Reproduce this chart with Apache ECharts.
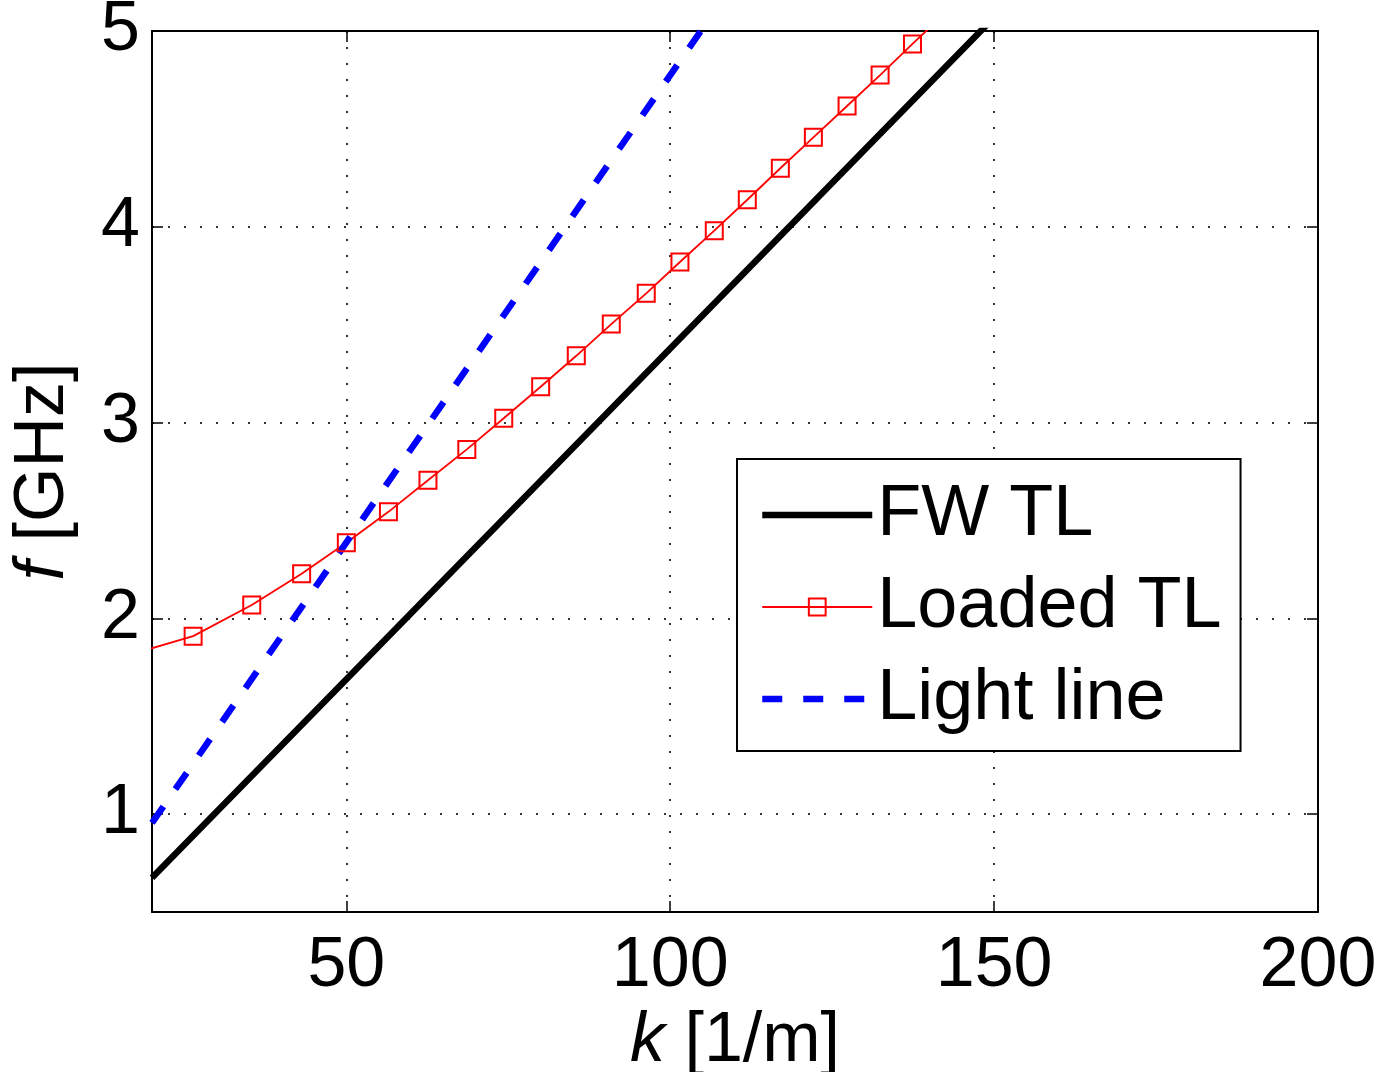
<!DOCTYPE html>
<html>
<head>
<meta charset="utf-8">
<script src="https://cdn.jsdelivr.net/npm/echarts@6/dist/echarts.min.js"></script>
<style>
html,body{margin:0;padding:0;background:#fff;}
#chart{width:1384px;height:1072px;}
</style>
</head>
<body>
<div id="chart"></div>
<script>
// ---- data ----
const xTicks = [50, 100, 150, 200];
const yTicks = [1, 2, 3, 4, 5];

const kFW = [20, 90, 150];
const fFW = [0.675, 3.04, 5.07];

const kLoaded = [10, 26.35, 35.4, 43.1, 50.0, 56.5, 62.6, 68.6, 74.3, 80.0, 85.5, 90.9, 96.3, 101.5, 106.8, 111.9, 117.0, 122.1, 127.3, 132.4, 137.4, 142.5];
const fLoaded = [1.75, 1.909, 2.068, 2.228, 2.386, 2.544, 2.705, 2.863, 3.022, 3.183, 3.341, 3.503, 3.660, 3.820, 3.980, 4.138, 4.299, 4.457, 4.617, 4.775, 4.934, 5.093];

const kLight = [20, 60, 110];
const fLight = [0.955, 2.865, 5.252];

const seriesNames = ['FW TL', 'Loaded TL', 'Light line'];

function pairs(xs, ys) { return xs.map((x, i) => [x, ys[i]]); }

const FONT = '"Liberation Sans", Arial, Helvetica, sans-serif';
const chart = echarts.init(document.getElementById('chart'), null, {renderer: 'canvas'});

const gridLine = {show: true, lineStyle: {color: '#333', width: 2, type: [2, 14]}};
const fwStyle = {color: '#000', width: 6.5, cap: 'butt'};
const loadedStyle = {color: '#ff0000', width: 1.8};
const lightStyle = {color: '#0000ff', width: 6.5, type: [20, 21], cap: 'butt'};

chart.setOption({
  animation: false,
  backgroundColor: '#fff',
  grid: {left: 152, top: 31, width: 1166, height: 881, containLabel: false, outerBoundsMode: 'none'},
  legend: {
    orient: 'vertical',
    left: 737, top: 459,
    data: [
      {name: seriesNames[0], lineStyle: fwStyle, itemStyle: {opacity: 0}},
      {name: seriesNames[1], lineStyle: loadedStyle},
      {name: seriesNames[2], lineStyle: lightStyle, itemStyle: {opacity: 0}}
    ],
    selectedMode: false,
    backgroundColor: '#fff',
    borderColor: '#000',
    borderWidth: 2,
    borderRadius: 0,
    padding: [20, 19, 16, 22],
    itemGap: 20,
    itemWidth: 110,
    itemHeight: 21,
    textStyle: {fontFamily: FONT, fontSize: 72, color: '#000', lineHeight: 72}
  },
  xAxis: [{
    type: 'value', min: 20, max: 200, position: 'bottom',
    name: '{i|k} [1/m]',
    nameLocation: 'middle', nameGap: 84,
    nameTextStyle: {fontFamily: FONT, fontSize: 70, color: '#000',
      rich: {i: {fontFamily: FONT, fontSize: 70, fontStyle: 'italic', color: '#000'}}},
    axisLine: {show: true, onZero: false, lineStyle: {color: '#000', width: 2}},
    axisTick: {show: true, inside: true, length: 11, customValues: xTicks, lineStyle: {color: '#000', width: 1.5}},
    axisLabel: {show: true, customValues: xTicks, fontFamily: FONT, fontSize: 70, color: '#000', margin: 20},
    splitLine: gridLine
  }, {
    type: 'value', min: 20, max: 200, position: 'top',
    axisLine: {show: true, onZero: false, lineStyle: {color: '#000', width: 2}},
    axisTick: {show: true, inside: true, length: 11, customValues: xTicks, lineStyle: {color: '#000', width: 1.5}},
    axisLabel: {show: false},
    splitLine: {show: false}
  }],
  yAxis: [{
    type: 'value', min: 0.5, max: 5, position: 'left',
    name: '{i|f} [GHz]',
    nameLocation: 'middle', nameGap: 73, nameRotate: 90,
    nameTextStyle: {fontFamily: FONT, fontSize: 70, color: '#000',
      rich: {i: {fontFamily: FONT, fontSize: 70, fontStyle: 'italic', color: '#000'}}},
    axisLine: {show: true, onZero: false, lineStyle: {color: '#000', width: 2}},
    axisTick: {show: true, inside: true, length: 11, customValues: yTicks, lineStyle: {color: '#000', width: 1.5}},
    axisLabel: {show: true, customValues: yTicks, fontFamily: FONT, fontSize: 70, color: '#000', margin: 12},
    splitLine: gridLine
  }, {
    type: 'value', min: 0.5, max: 5, position: 'right',
    axisLine: {show: true, onZero: false, lineStyle: {color: '#000', width: 2}},
    axisTick: {show: true, inside: true, length: 11, customValues: yTicks, lineStyle: {color: '#000', width: 1.5}},
    axisLabel: {show: false},
    splitLine: {show: false}
  }],
  series: [{
    name: seriesNames[0], type: 'line', xAxisIndex: 0, yAxisIndex: 0,
    data: pairs(kFW, fFW), showSymbol: false, symbol: 'none', clip: true,
    color: '#000',
    lineStyle: fwStyle
  }, {
    name: seriesNames[1], type: 'line', xAxisIndex: 0, yAxisIndex: 0,
    data: pairs(kLoaded, fLoaded), symbol: 'rect', symbolSize: 17, showSymbol: true, clip: true,
    color: '#ff0000',
    lineStyle: loadedStyle,
    itemStyle: {color: 'rgba(255,255,255,0)', borderColor: '#ff0000', borderWidth: 2}
  }, {
    name: seriesNames[2], type: 'line', xAxisIndex: 0, yAxisIndex: 0,
    data: pairs(kLight, fLight), showSymbol: false, symbol: 'none', clip: true,
    color: '#0000ff',
    lineStyle: lightStyle
  }]
});
</script>
</body>
</html>
